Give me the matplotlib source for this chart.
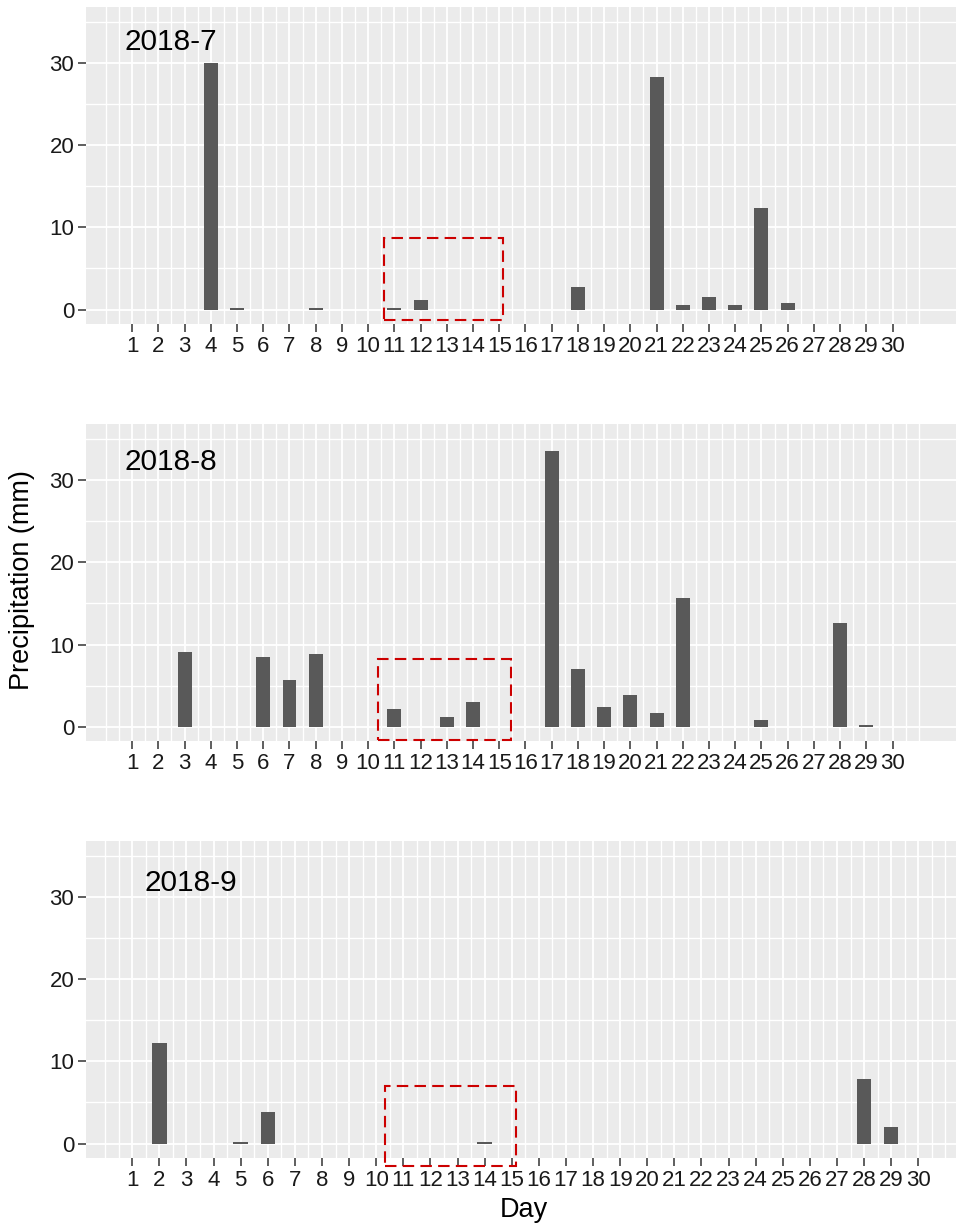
import numpy as np
import matplotlib
matplotlib.use("Agg")
import matplotlib.pyplot as plt
from matplotlib.patches import Rectangle

plt.rcParams['font.family'] = ['Liberation Sans', 'DejaVu Sans']

# --- data (daily precipitation, mm) ---
months = ["2018-7", "2018-8", "2018-9"]

jul_days = [4, 5, 8, 11, 12, 18, 21, 22, 23, 24, 25, 26]
jul_rain = [29.9, 0.2, 0.2, 0.2, 1.2, 2.7, 28.3, 0.5, 1.5, 0.6, 12.3, 0.85]

aug_days = [3, 6, 7, 8, 11, 13, 14, 17, 18, 19, 20, 21, 22, 25, 28, 29]
aug_rain = [9.1, 8.5, 5.7, 8.8, 2.15, 1.2, 3.0, 33.5, 7.0, 2.4, 3.85, 1.65, 15.65, 0.8, 12.6, 0.2]

sep_days = [2, 5, 6, 14, 28, 29]
sep_rain = [12.2, 0.15, 3.8, 0.15, 7.8, 2.0]

day_ticks = list(range(1, 31))

# dashed boxes around days 11-15
box_x = [(10.62, 15.16), (10.39, 15.43), (10.31, 15.17)]
box_y = [(-1.3, 8.66), (-1.65, 8.2), (-2.68, 7.05)]

# --- layout (pixels -> figure fractions) ---
W, H = 957, 1228
fig = plt.figure(figsize=(W / 100, H / 100), dpi=100)

panel_tops = [6.7, 424.0, 840.7]
panel_h = 317.3
left_px, right_px = 86, 956
xlims = [(-0.76, 32.42), (-0.76, 32.42), (-0.706, 31.39)]
label_pos = [(0.695, 31.6), (0.695, 31.2), (1.47, 30.7)]

series = [(jul_days, jul_rain), (aug_days, aug_rain), (sep_days, sep_rain)]

for i, (days, rain) in enumerate(series):
    top = panel_tops[i]
    ax = fig.add_axes([left_px / W, 1 - (top + panel_h) / H,
                       (right_px - left_px) / W, panel_h / H])
    ax.set_facecolor('#EBEBEB')
    for s in ax.spines.values():
        s.set_visible(False)

    ax.bar(days, rain, width=0.53, color='#595959', zorder=3)

    ax.set_xlim(*xlims[i])
    ax.set_ylim(-1.75, 36.8)
    ax.set_xticks(day_ticks)
    ax.set_xticks(np.arange(0, 31.01, 0.5), minor=True)
    ax.set_yticks([0, 10, 20, 30])
    ax.set_yticks([5, 15, 25, 35], minor=True)
    ax.grid(which='major', color='white', lw=1.3, zorder=1)
    ax.grid(which='minor', color='white', lw=1.0, zorder=1)
    ax.set_axisbelow(True)

    ax.tick_params(which='major', length=6, width=1.1, color='#333333',
                   labelsize=16, labelcolor='#1A1A1A', pad=2.5)
    ax.tick_params(which='minor', length=0)

    ax.text(label_pos[i][0], label_pos[i][1], months[i], fontsize=21.4,
            ha='left', va='baseline', color='black', zorder=5)

    x0, x1 = box_x[i]
    y0, y1 = box_y[i]
    ax.add_patch(Rectangle((x0, y0), x1 - x0, y1 - y0, fill=False,
                           edgecolor='#CC0000', lw=1.5,
                           linestyle=(0, (5.5, 3)), clip_on=False, zorder=6))

fig.text(21.7 / W, 1 - 580.5 / H, "Precipitation (mm)", rotation=90,
         ha='center', va='center', fontsize=19.5)
fig.text(524 / W, 1 - 1210 / H, "Day", ha='center', va='center', fontsize=19.5)

fig.savefig("out.png", dpi=100)
